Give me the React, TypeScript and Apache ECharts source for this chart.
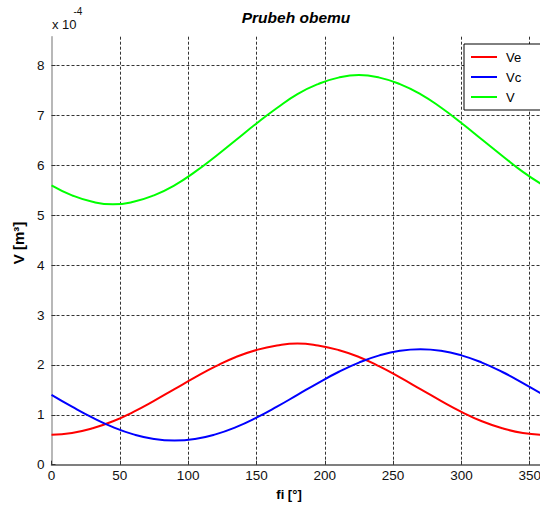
import React, { useEffect, useRef } from 'react';
import * as echarts from 'echarts';

// angle fi in degrees
const angles = [0, 15, 30, 45, 60, 75, 90, 105, 120, 135, 150, 165, 180, 195, 210, 225, 240, 255, 270, 285, 300, 315, 330, 345, 360];
// volumes in units of 1e-4 m^3
const ve = [0.60, 0.635, 0.73, 0.87, 1.06, 1.28, 1.515, 1.75, 1.97, 2.16, 2.30, 2.39, 2.43, 2.39, 2.30, 2.16, 1.97, 1.75, 1.515, 1.28, 1.06, 0.87, 0.73, 0.635, 0.60];
const vc = [1.40, 1.163, 0.943, 0.753, 0.608, 0.516, 0.485, 0.516, 0.608, 0.753, 0.943, 1.163, 1.40, 1.637, 1.858, 2.047, 2.192, 2.284, 2.315, 2.284, 2.192, 2.047, 1.858, 1.637, 1.40];
const v = [5.60, 5.40, 5.27, 5.22, 5.27, 5.40, 5.60, 5.87, 6.18, 6.51, 6.84, 7.15, 7.43, 7.63, 7.76, 7.81, 7.76, 7.63, 7.43, 7.16, 6.85, 6.52, 6.19, 5.87, 5.60];

const seriesNames = ['Ve', 'Vc', 'V'];
const seriesColors = ['#ff0000', '#0000ff', '#00ff00'];
const seriesValues = [ve, vc, v];

const FONT = '"Liberation Sans", Arial, sans-serif';

export default function App() {
  const ref = useRef<HTMLDivElement>(null);
  useEffect(() => {
    if (!ref.current) return;
    const chart = echarts.init(ref.current, null, { renderer: 'svg' });
    const grid = { left: 51.5, right: 0, top: 36.7, bottom: 51.3 };
    chart.setOption({
      animation: false,
      backgroundColor: '#ffffff',
      textStyle: { fontFamily: FONT },
      grid,
      legend: {
        orient: 'vertical',
        left: 464,
        top: 44,
        padding: [6, 40, 6, 7],
        borderColor: '#000',
        borderWidth: 1,
        borderRadius: 0,
        backgroundColor: '#fff',
        itemWidth: 26,
        itemHeight: 2,
        itemGap: 6,
        selectedMode: false,
        data: seriesNames.map((n) => ({ name: n, icon: 'rect' })),
        textStyle: { fontSize: 13, color: '#000', lineHeight: 14, padding: [0, 0, 0, 4], fontFamily: FONT },
      },
      xAxis: {
        type: 'value',
        min: 0,
        max: 360,
        interval: 50,
        axisLine: { show: true, onZero: false, lineStyle: { color: '#555', width: 1.5 } },
        axisTick: { show: true, inside: true, length: 4, lineStyle: { color: '#333' } },
        axisLabel: { show: true, fontSize: 13.5, color: '#111', margin: 4, showMaxLabel: false, fontFamily: FONT },
        splitLine: { show: true, showMinLine: false, showMaxLine: false, lineStyle: { color: '#333', type: [3, 2], width: 1 } },
      },
      yAxis: {
        type: 'value',
        min: 0,
        max: 8.58,
        interval: 1,
        axisLine: { show: true, onZero: false, lineStyle: { color: '#a0a0a0', width: 1.5 } },
        axisTick: { show: true, inside: true, length: 4, lineStyle: { color: '#333' } },
        axisLabel: {
          show: true,
          fontSize: 13.5,
          color: '#111',
          margin: 7,
          showMaxLabel: false,
          fontFamily: FONT,
          formatter: (val: number) => (Number.isInteger(Math.round(val * 1000) / 1000) ? String(Math.round(val)) : ''),
        },
        splitLine: { show: true, showMinLine: false, showMaxLine: false, lineStyle: { color: '#333', type: [3, 2], width: 1 } },
      },
      series: seriesNames.map((name, i) => ({
        name,
        type: 'line',
        smooth: true,
        showSymbol: false,
        symbol: 'none',
        data: angles.map((a, j) => [a, seriesValues[i][j]]),
        lineStyle: { color: seriesColors[i], width: 2 },
        itemStyle: { color: seriesColors[i] },
        z: 3,
      })),
      graphic: [
        {
          type: 'text',
          x: 296,
          y: 17,
          style: { text: 'Prubeh obemu', font: `italic bold 15.5px ${FONT}`, fill: '#000', align: 'center', verticalAlign: 'middle' },
        },
        {
          type: 'text',
          x: 52,
          y: 24,
          style: { text: 'x 10', font: `13px ${FONT}`, fill: '#111', align: 'left', verticalAlign: 'middle' },
        },
        {
          type: 'text',
          x: 73.5,
          y: 11.5,
          style: { text: '-4', font: `10px ${FONT}`, fill: '#111', align: 'left', verticalAlign: 'middle' },
        },
        {
          type: 'text',
          x: 18,
          y: 243,
          rotation: Math.PI / 2,
          style: { text: 'V [m³]', font: `bold 15px ${FONT}`, fill: '#000', align: 'center', verticalAlign: 'middle' },
        },
        {
          type: 'text',
          x: 289,
          y: 494,
          style: { text: 'fi [°]', font: `bold 13px ${FONT}`, fill: '#000', align: 'center', verticalAlign: 'middle' },
        },
      ],
    });
    return () => chart.dispose();
  }, []);
  return (
    <div style={{ position: 'absolute', left: 0, top: 0, width: 540, height: 516, overflow: 'hidden' }}>
      <div ref={ref} style={{ width: 544.4, height: 516 }} />
    </div>
  );
}
